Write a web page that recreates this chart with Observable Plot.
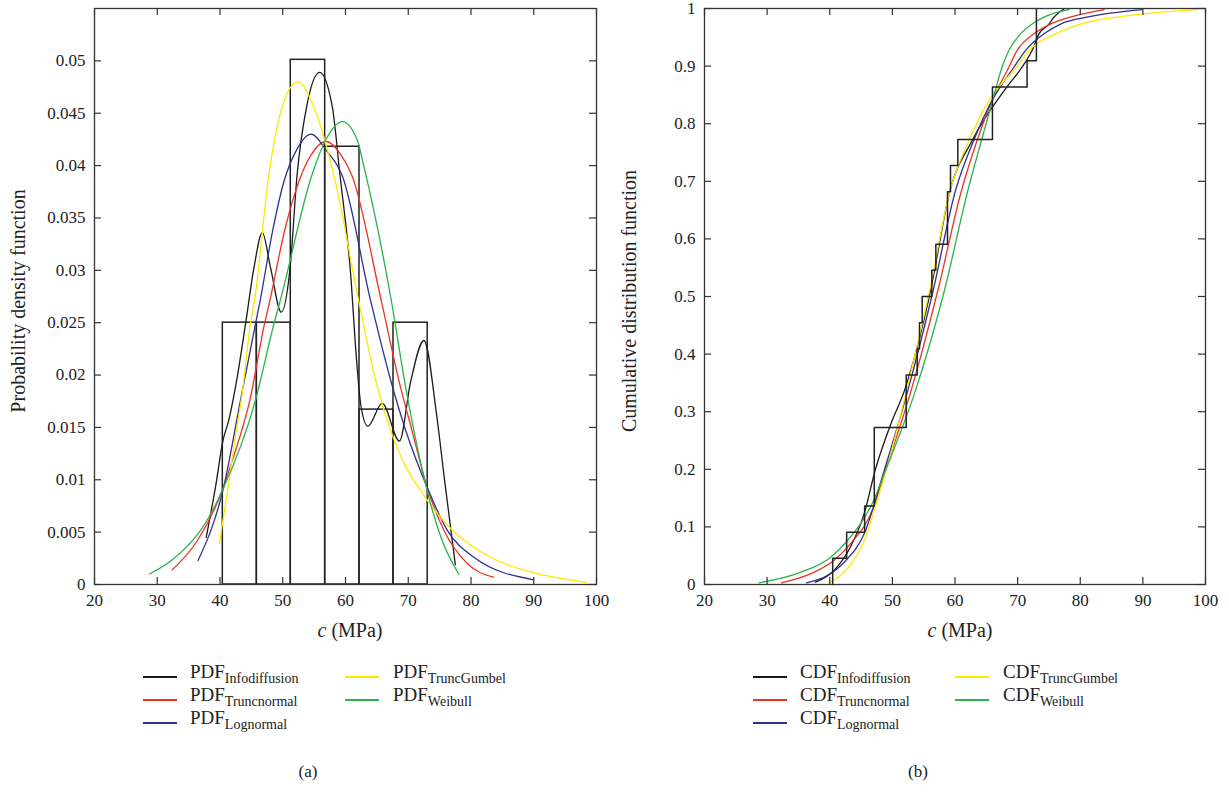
<!DOCTYPE html>
<html>
<head>
<meta charset="utf-8">
<script src="https://cdn.jsdelivr.net/npm/d3@7"></script>
<script src="https://cdn.jsdelivr.net/npm/@observablehq/plot@0.6"></script>
<style>
  html, body { margin: 0; padding: 0; background: #fff; }
  #root { position: relative; width: 1229px; height: 792px; background: #fff; font-family: "Liberation Serif", "Times New Roman", serif; color: #222; }
  #root svg text { font-family: "Liberation Serif", "Times New Roman", serif !important; font-size: 17px; fill: #222; }
  .abs { position: absolute; white-space: nowrap; }
  .t17 { font-size: 17px; line-height: 20px; }
  .t20 { font-size: 20px; line-height: 22px; }
  .leg { font-size: 19px; line-height: 22px; }
  .sub { font-size: 14px; position: relative; top: 5px; }
</style>
</head>
<body>
<div id="root"></div>
<script>
// ---------- data ----------
const xTicks = [20, 30, 40, 50, 60, 70, 80, 90, 100];
const pdfTicks = [0, 0.005, 0.01, 0.015, 0.02, 0.025, 0.03, 0.035, 0.04, 0.045, 0.05];
const cdfTicks = [0, 0.1, 0.2, 0.3, 0.4, 0.5, 0.6, 0.7, 0.8, 0.9, 1];

const seriesNames = ["Infodiffusion", "Truncnormal", "Lognormal", "TruncGumbel", "Weibull"];
const seriesColors = ["#1a1a1a", "#ee3322", "#2e3192", "#ffe800", "#2bb34a"];

// histogram (density)
const binLo = [40.45, 45.87, 51.28, 56.76, 62.23, 67.65];
const binHi = [45.87, 51.28, 56.76, 62.23, 67.65, 73.1];
const binDensity = [0.025, 0.025, 0.0501, 0.0418, 0.0167, 0.025];

// empirical CDF steps
const ecdfX = [40.47, 40.47, 42.70, 45.57, 47.11, 52.21, 53.96, 54.33, 54.76, 56.30, 56.94, 58.80, 59.28, 60.45, 65.98, 71.51, 73.0];
const ecdfY = [0, 0.0455, 0.0909, 0.1364, 0.2727, 0.3636, 0.4091, 0.4545, 0.5, 0.5455, 0.5909, 0.6818, 0.7273, 0.7727, 0.8636, 0.9091, 1];

// PDF curves
const pdfInfoX = [37.8, 39.28, 40.5, 41.4, 42.6, 44.1, 45.4, 46.74, 48.07, 49.77, 51.16, 52.3, 53.8, 55.88, 57.9, 59.1, 60.9, 61.6, 62.5, 63.56, 65.85, 68.6, 70.36, 72.5, 74.5, 75.8, 77.5];
const pdfInfoY = [0.0045, 0.0093, 0.0138, 0.0157, 0.0193, 0.025, 0.0302, 0.0336, 0.0302, 0.0260, 0.0302, 0.0392, 0.0456, 0.0489, 0.0456, 0.0392, 0.029, 0.0227, 0.0169, 0.0151, 0.0173, 0.0137, 0.0193, 0.0233, 0.0163, 0.0099, 0.0019];
const pdfTruncX = [32.4, 36.4, 40.24, 41.94, 44.76, 47.1, 47.94, 50.3, 52.7, 54.4, 56.9, 59.2, 61.06, 65.7, 68.5, 70.6, 73.0, 75.66, 79.4, 83.6];
const pdfTruncY = [0.0014, 0.0042, 0.0088, 0.0118, 0.0176, 0.0249, 0.0271, 0.0338, 0.0387, 0.0409, 0.0423, 0.0411, 0.0390, 0.0271, 0.0195, 0.0147, 0.0093, 0.0052, 0.0020, 0.0007];
const pdfLogX = [36.5, 38.75, 40.35, 43.27, 45.66, 46.4, 48.3, 50.2, 52.3, 54.5, 57.0, 59.5, 64.0, 67.2, 69.6, 73.0, 76.2, 80.45, 90.0];
const pdfLogY = [0.0023, 0.0055, 0.0087, 0.0176, 0.0249, 0.0271, 0.0335, 0.0385, 0.0416, 0.0430, 0.0414, 0.0390, 0.0271, 0.0195, 0.0147, 0.0093, 0.0052, 0.0026, 0.00045];
const pdfGumX = [39.9, 41.14, 42.36, 43.53, 44.86, 45.5, 47.8, 49.9, 52.4, 54.95, 58.1, 62.1, 64.8, 68.2, 72.75, 77.0, 83.1, 89.5, 98.5];
const pdfGumY = [0.0039, 0.0087, 0.0138, 0.0182, 0.0249, 0.0271, 0.0392, 0.0456, 0.0480, 0.0456, 0.0392, 0.0271, 0.0195, 0.0131, 0.0083, 0.0052, 0.0026, 0.0012, 0.0002];
const pdfWeiX = [28.8, 32.6, 38.2, 40.24, 45.66, 48.6, 49.6, 54.7, 56.8, 59.5, 61.9, 62.9, 67.3, 69.4, 70.9, 73.3, 75.4, 78.06];
const pdfWeiY = [0.0010, 0.00245, 0.0064, 0.0088, 0.0176, 0.0249, 0.0271, 0.0392, 0.0424, 0.0442, 0.0424, 0.0400, 0.0271, 0.0195, 0.0147, 0.0083, 0.0042, 0.0010];

// CDF curves
const cdfInfoX = [37.7, 40.65, 43.3, 45.5, 47.3, 49.8, 51.94, 56.09, 59.2, 62.7, 68.3, 70.7, 72.3, 73.4, 75.0, 75.8, 77.5];
const cdfInfoY = [0.004, 0.024, 0.065, 0.123, 0.2, 0.28, 0.337, 0.51, 0.684, 0.77, 0.864, 0.898, 0.927, 0.956, 0.973, 0.985, 1.0];
const cdfTruncX = [32.3, 36.9, 40.65, 43.3, 47.0, 48.9, 53.0, 57.25, 61.04, 63.5, 65.9, 68.6, 69.9, 72.6, 75.25, 78.4, 83.8];
const cdfTruncY = [0.003, 0.0185, 0.0417, 0.0706, 0.134, 0.198, 0.337, 0.51, 0.684, 0.77, 0.84, 0.898, 0.927, 0.956, 0.973, 0.985, 0.998];
const cdfLogX = [36.3, 39.6, 42.3, 45.5, 48.7, 52.47, 56.5, 60.08, 62.95, 65.9, 69.4, 71.25, 74.2, 76.85, 81.1, 89.9];
const cdfLogY = [0.003, 0.0156, 0.0387, 0.088, 0.198, 0.337, 0.51, 0.684, 0.77, 0.84, 0.898, 0.927, 0.956, 0.973, 0.985, 0.998];
const cdfGumX = [39.85, 42.8, 45.5, 48.1, 49.2, 52.26, 55.93, 59.2, 62.2, 65.4, 69.8, 71.8, 76.05, 80.0, 85.9, 98.7];
const cdfGumY = [0.003, 0.027, 0.076, 0.165, 0.205, 0.337, 0.51, 0.684, 0.77, 0.84, 0.898, 0.927, 0.956, 0.973, 0.985, 0.998];
const cdfWeiX = [28.7, 35.3, 40.1, 42.8, 47.0, 48.9, 53.7, 58.3, 62.05, 64.2, 66.0, 67.5, 68.6, 70.46, 72.3, 74.2, 78.2];
const cdfWeiY = [0.003, 0.021, 0.047, 0.076, 0.146, 0.198, 0.337, 0.51, 0.684, 0.77, 0.84, 0.898, 0.927, 0.956, 0.973, 0.985, 0.998];

// ---------- helpers ----------
const zip = (xs, ys) => xs.map((x, i) => ({x, y: ys[i]}));
const pdfSeries = [zip(pdfInfoX, pdfInfoY), zip(pdfTruncX, pdfTruncY), zip(pdfLogX, pdfLogY), zip(pdfGumX, pdfGumY), zip(pdfWeiX, pdfWeiY)];
const cdfSeries = [zip(cdfInfoX, cdfInfoY), zip(cdfTruncX, cdfTruncY), zip(cdfLogX, cdfLogY), zip(cdfGumX, cdfGumY), zip(cdfWeiX, cdfWeiY)];
const bins = binLo.map((lo, i) => ({x1: lo, x2: binHi[i], y: binDensity[i]}));
const ecdf = zip(ecdfX, ecdfY);

const H = 640, MT = 8, MB = 56;
const TICK = 7;
const fmt = d => String(+d.toFixed(3));

function panel({width, ml, mr, yDomain, yTicks, marks}) {
  const pw = width - ml - mr, ph = H - MT - MB;
  return Plot.plot({
    width, height: H,
    marginLeft: ml, marginRight: mr, marginTop: MT, marginBottom: MB,
    style: {fontFamily: "'Liberation Serif', serif", fontSize: "17px", color: "#222", background: "#fff"},
    x: {domain: [20, 100]},
    y: {domain: yDomain},
    marks: [
      ...marks,
      Plot.ruleX(xTicks, {x: d => d, insetTop: ph - TICK, stroke: "#333", strokeWidth: 1.2}),
      Plot.ruleX(xTicks, {x: d => d, insetBottom: ph - TICK, stroke: "#333", strokeWidth: 1.2}),
      Plot.ruleY(yTicks, {y: d => d, insetRight: pw - TICK, stroke: "#333", strokeWidth: 1.2}),
      Plot.ruleY(yTicks, {y: d => d, insetLeft: pw - TICK, stroke: "#333", strokeWidth: 1.2}),
      Plot.frame({stroke: "#333", strokeWidth: 1.3}),
      Plot.axisX({ticks: xTicks, tickSize: 0, tickPadding: 9, label: null, tickFormat: d => String(d)}),
      Plot.axisY({ticks: yTicks, tickSize: 0, tickPadding: 9, label: null, tickFormat: fmt})
    ]
  });
}

const leftPlot = panel({
  width: 614, ml: 94, mr: 18, yDomain: [0, 0.055], yTicks: pdfTicks,
  marks: [
    Plot.rect(bins, {x1: "x1", x2: "x2", y1: 0, y2: "y", fill: "none", stroke: "#222", strokeWidth: 1.5}),
    ...pdfSeries.map((s, i) => Plot.line(s, {x: "x", y: "y", stroke: seriesColors[i], strokeWidth: 1.3, curve: "monotone-x"}))
  ]
});

const rightPlot = panel({
  width: 615, ml: 90, mr: 24, yDomain: [0, 1], yTicks: cdfTicks,
  marks: [
    ...cdfSeries.map((s, i) => Plot.line(s, {x: "x", y: "y", stroke: seriesColors[i], strokeWidth: 1.3, curve: "monotone-x"})),
    Plot.line(ecdf, {x: "x", y: "y", stroke: "#222", strokeWidth: 1.5, curve: "step-after"})
  ]
});

const root = document.getElementById("root");
function place(el, left, top) { el.style.position = "absolute"; el.style.left = left + "px"; el.style.top = top + "px"; root.appendChild(el); }
place(leftPlot, 0, 0);
place(rightPlot, 614, 0);

function text(html, left, top, cls, extra) {
  const d = document.createElement("div");
  d.className = "abs " + (cls || "t17");
  d.innerHTML = html;
  d.style.left = left + "px"; d.style.top = top + "px";
  if (extra) Object.assign(d.style, extra);
  root.appendChild(d);
  return d;
}

// axis titles, panel tags and legends
const yTitles = ["Probability density function", "Cumulative distribution function"];
const panelOffsets = [0, 610];
const panelTags = ["(a)", "(b)"];
const prefixes = ["PDF", "CDF"];
panelOffsets.forEach((off, p) => {
  const cx = 350 + off;
  text('<i>c</i> (MPa)', cx, 619, "t20", {transform: "translateX(-50%)"});
  text(yTitles[p], 18 + off + (p ? 1 : 0), 301, "t20", {transform: "translate(-50%,-50%) rotate(-90deg)"});
  text(panelTags[p], 308 + off, 762, "t17", {transform: "translateX(-50%)"});
  const cols = [[0, 1, 2], [3, 4]];
  const lineX = [143, 345], textX = [190, 393];
  const rowY = [677, 700, 723];
  cols.forEach((idxs, c) => {
    idxs.forEach((si, r) => {
      const ln = document.createElement("div");
      ln.className = "abs";
      Object.assign(ln.style, {left: (lineX[c] + off) + "px", top: (rowY[r] - 1) + "px", width: "34px", height: "2px", background: seriesColors[si]});
      root.appendChild(ln);
      text(prefixes[p] + '<span class="sub">' + seriesNames[si] + '</span>', textX[c] + off, rowY[r] - 16, "leg");
    });
  });
});
</script>
</body>
</html>
